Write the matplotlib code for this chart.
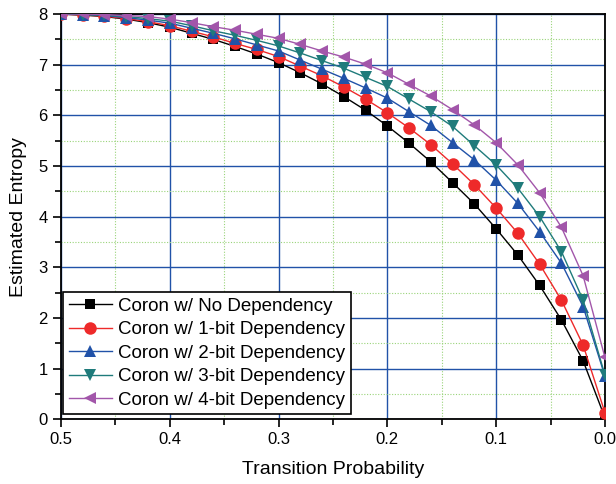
import numpy as np
import matplotlib
matplotlib.use("Agg")
import matplotlib.pyplot as plt
from matplotlib.ticker import MultipleLocator

plt.rcParams['font.family'] = ['Liberation Sans', 'DejaVu Sans']

# transition probability, 0.00 .. 0.50 step 0.02
p = [0.00, 0.02, 0.04, 0.06, 0.08, 0.10, 0.12, 0.14, 0.16, 0.18, 0.20, 0.22, 0.24,
     0.26, 0.28, 0.30, 0.32, 0.34, 0.36, 0.38, 0.40, 0.42, 0.44, 0.46, 0.48, 0.50]

no_dep = [0.03, 1.15, 1.96, 2.64, 3.24, 3.76, 4.25, 4.67, 5.08, 5.45, 5.79, 6.10, 6.37,
          6.62, 6.84, 7.04, 7.21, 7.36, 7.50, 7.62, 7.74, 7.83, 7.90, 7.95, 7.98, 8.00]
dep1 = [0.13, 1.46, 2.35, 3.06, 3.67, 4.17, 4.63, 5.04, 5.42, 5.75, 6.05, 6.32, 6.56,
        6.78, 6.97, 7.16, 7.30, 7.42, 7.55, 7.66, 7.77, 7.85, 7.91, 7.96, 7.98, 8.00]
dep2 = [0.85, 2.22, 3.08, 3.70, 4.26, 4.72, 5.12, 5.46, 5.80, 6.07, 6.34, 6.54, 6.73,
        6.91, 7.09, 7.27, 7.39, 7.51, 7.62, 7.72, 7.82, 7.88, 7.93, 7.97, 7.99, 8.00]
dep3 = [0.87, 2.35, 3.31, 4.00, 4.56, 5.02, 5.40, 5.78, 6.07, 6.32, 6.57, 6.75, 6.93,
        7.08, 7.23, 7.37, 7.48, 7.58, 7.67, 7.77, 7.86, 7.91, 7.95, 7.98, 7.99, 8.00]
dep4 = [1.22, 2.83, 3.79, 4.47, 5.02, 5.46, 5.81, 6.11, 6.38, 6.61, 6.84, 7.01, 7.15,
        7.27, 7.40, 7.52, 7.60, 7.68, 7.75, 7.83, 7.90, 7.95, 7.97, 7.99, 8.00, 8.00]

labels = ["Coron w/ No Dependency", "Coron w/ 1-bit Dependency",
          "Coron w/ 2-bit Dependency", "Coron w/ 3-bit Dependency",
          "Coron w/ 4-bit Dependency"]
colors = ["#000000", "#EE2A2A", "#2152A8", "#1F7B7B", "#A256AA"]
markers = ["s", "o", "^", "v", "<"]
msizes = [7.5, 9, 9, 9, 9]

fig = plt.figure(figsize=(6.16, 4.84), dpi=100)
ax = fig.add_axes([0.099, 0.134, 0.883, 0.837])

for ys, lab, c, m, ms in zip([no_dep, dep1, dep2, dep3, dep4], labels, colors, markers, msizes):
    ax.plot(p, ys, color=c, marker=m, markersize=ms, linewidth=1.0, label=lab,
            markeredgewidth=0, zorder=3)

ax.set_xlim(0.5, 0.0)
ax.set_ylim(0, 8)
ax.xaxis.set_major_locator(MultipleLocator(0.1))
ax.xaxis.set_minor_locator(MultipleLocator(0.05))
ax.yaxis.set_major_locator(MultipleLocator(1))
ax.yaxis.set_minor_locator(MultipleLocator(0.5))
ax.set_xticks([0.5, 0.4, 0.3, 0.2, 0.1, 0.0])
ax.set_xticklabels(["0.5", "0.4", "0.3", "0.2", "0.1", "0.0"])

ax.grid(which="major", color="#2152A8", linewidth=1.0, zorder=0)
ax.grid(which="minor", color="#9AD47A", linewidth=0.8, linestyle=(0, (1, 1.5)), zorder=0)
ax.set_axisbelow(True)

ax.tick_params(which="major", direction="out", length=6, width=1.2, labelsize=12,
               top=False, right=False)
ax.tick_params(which="minor", direction="out", length=4, width=1.2, top=False, right=False)
for s in ax.spines.values():
    s.set_linewidth(1.3)

ax.set_xlabel("Transition Probability", fontsize=14, labelpad=10)
ax.set_ylabel("Estimated Entropy", fontsize=14, labelpad=8)

leg = ax.legend(loc="lower left", bbox_to_anchor=(0.004, 0.012), borderaxespad=0,
                fontsize=13.5, frameon=True, fancybox=False, edgecolor="black",
                framealpha=1, handlelength=2.3, handletextpad=0.35, labelspacing=0.34,
                borderpad=0.3)
leg.get_frame().set_linewidth(1.2)

fig.savefig("out.png", dpi=100)
